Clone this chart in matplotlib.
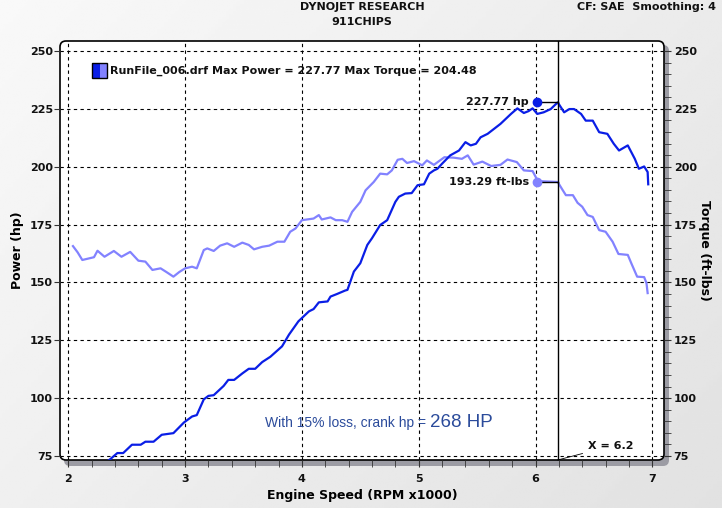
import numpy as np
import matplotlib
matplotlib.use("Agg")
import matplotlib.pyplot as plt
from matplotlib.patches import FancyBboxPatch, Rectangle
from matplotlib.transforms import IdentityTransform
from matplotlib.ticker import MultipleLocator

# данные
power_rpm = [2.33, 2.36, 2.42, 2.47, 2.545, 2.62, 2.66, 2.73, 2.80, 2.90, 2.99, 3.06, 3.10, 3.16,
             3.20, 3.245, 3.33, 3.37, 3.42, 3.49, 3.545, 3.60, 3.66, 3.73, 3.83, 3.89, 3.97, 4.06,
             4.10, 4.145, 4.22, 4.245, 4.30, 4.37, 4.39, 4.445, 4.50, 4.56, 4.60, 4.67, 4.73, 4.80,
             4.83, 4.885, 4.94, 4.99, 5.045, 5.09, 5.13, 5.16, 5.20, 5.27, 5.345, 5.40, 5.445, 5.49,
             5.53, 5.59, 5.70, 5.79, 5.845, 5.90, 5.94, 5.975, 6.015, 6.07, 6.13, 6.19, 6.245, 6.29,
             6.33, 6.39, 6.43, 6.49, 6.545, 6.615, 6.67, 6.715, 6.79, 6.85, 6.885, 6.93, 6.96, 6.965]
power_hp = [72.5, 73.7, 76.3, 76.3, 79.9, 79.9, 81.2, 81.2, 84.2, 84.9, 89.5, 92.1, 92.7, 99.5,
            101.0, 101.3, 105.3, 107.9, 107.9, 110.7, 112.7, 112.7, 115.6, 117.9, 122.4, 127.5, 133.2, 137.5,
            138.5, 141.4, 141.8, 143.9, 145.0, 146.5, 146.8, 154.7, 158.3, 166.2, 169.1, 174.8, 176.9, 184.8,
            187.0, 188.4, 188.6, 192.0, 192.4, 197.0, 198.4, 199.1, 201.3, 204.9, 207.0, 210.6, 209.2, 209.9,
            212.7, 214.2, 218.5, 222.8, 225.2, 223.2, 224.0, 225.2, 222.8, 223.5, 224.9, 227.8, 223.5, 224.9,
            224.9, 222.8, 219.9, 219.9, 214.9, 214.2, 209.9, 207.0, 209.2, 203.4, 199.1, 200.1, 197.7, 192.4]

torque_rpm = [2.04, 2.08, 2.12, 2.22, 2.25, 2.31, 2.39, 2.455, 2.53, 2.60, 2.66, 2.72, 2.79, 2.84,
              2.90, 2.95, 3.00, 3.06, 3.10, 3.16, 3.19, 3.245, 3.30, 3.36, 3.42, 3.49, 3.545, 3.59,
              3.66, 3.72, 3.79, 3.85, 3.90, 3.945, 4.0, 4.10, 4.145, 4.17, 4.245, 4.29, 4.345, 4.39,
              4.43, 4.50, 4.545, 4.615, 4.67, 4.73, 4.77, 4.82, 4.86, 4.90, 4.96, 5.03, 5.07, 5.13,
              5.22, 5.30, 5.37, 5.42, 5.47, 5.545, 5.62, 5.70, 5.76, 5.84, 5.90, 5.975, 6.02, 6.10,
              6.19, 6.23, 6.26, 6.32, 6.36, 6.40, 6.445, 6.49, 6.545, 6.60, 6.66, 6.71, 6.79, 6.82,
              6.87, 6.93, 6.95, 6.96]
torque_ftlb = [165.7, 163.0, 159.7, 160.9, 163.7, 161.1, 163.6, 161.1, 163.2, 159.4, 159.0, 155.4, 156.1, 154.5,
               152.5, 154.5, 156.1, 156.8, 156.1, 164.0, 164.7, 163.6, 165.9, 166.9, 165.4, 167.2, 166.2, 164.3,
               165.4, 165.9, 167.6, 167.6, 171.9, 173.3, 176.9, 177.6, 179.1, 177.2, 178.1, 176.9, 176.9, 176.2,
               180.5, 184.8, 189.8, 193.4, 197.0, 196.7, 198.4, 203.0, 203.4, 201.6, 202.4, 200.6, 202.7, 200.8,
               204.1, 203.9, 203.4, 204.9, 200.9, 202.2, 200.3, 200.8, 203.1, 202.0, 198.4, 198.1, 193.8, 193.6,
               193.4, 190.1, 187.7, 187.7, 184.4, 182.7, 179.1, 178.3, 172.6, 171.9, 167.6, 162.3, 161.9, 158.3,
               152.5, 152.3, 149.7, 145.4]

x_ticks = [2, 3, 4, 5, 6, 7]
y_ticks = [75, 100, 125, 150, 175, 200, 225, 250]
cursor_x = 6.19
max_power = 227.77
max_torque = 204.48
cursor_torque = 193.29
marker_x = 6.015

dark = '#0a1ee6'
light = '#8282ff'
W, H = 722, 508

fig = plt.figure(figsize=(7.22, 5.08), dpi=100)

# фон с градиентом
bg = fig.add_axes([0, 0, 1, 1], zorder=-10)
gx, gy = np.meshgrid(np.linspace(0, 1, 200), np.linspace(0, 1, 200))
grad = 0.975 - 0.09 * (0.6 * gx + 0.4 * gy)
bg.imshow(grad, cmap='gray', vmin=0, vmax=1, aspect='auto', extent=[0, 1, 0, 1])
bg.axis('off')

# тень и белое поле с закруглёнными углами (в пикселях)
shadow = FancyBboxPatch((64, H - 466), 605, 421, boxstyle='round,pad=0,rounding_size=6',
                        transform=IdentityTransform(), fc='#9c9ca4', ec='none', zorder=-5)
panel = FancyBboxPatch((60, H - 460), 604, 419, boxstyle='round,pad=0,rounding_size=6',
                       transform=IdentityTransform(), fc='white', ec='black', lw=1.2, zorder=-4)
fig.add_artist(shadow)
fig.add_artist(panel)

ax = fig.add_axes([60 / W, (H - 460) / H, 604 / W, 419 / H])
ax.patch.set_visible(False)
for s in ax.spines.values():
    s.set_visible(False)
ax.set_xlim(1.929, 7.10)
ax.set_ylim(73.3, 254.3)

ax.set_xticks(x_ticks)
ax.set_yticks(y_ticks)
ax.xaxis.set_minor_locator(MultipleLocator(0.2))
ax.tick_params(axis='x', which='both', direction='out', length=5, color='#333333',
               labelsize=8, pad=5)
ax.tick_params(axis='y', which='both', direction='out', length=4, color='#333333',
               labelsize=8, pad=1)
for lab in ax.get_xticklabels() + ax.get_yticklabels():
    lab.set_fontweight('bold')
    lab.set_color('#111111')
ax.grid(True, which='major', ls=(0, (3, 3)), color='black', lw=0.8)

ax2 = ax.twinx()
ax2.set_ylim(ax.get_ylim())
for s in ax2.spines.values():
    s.set_visible(False)
ax2.set_yticks(y_ticks)
ax2.yaxis.set_minor_locator(MultipleLocator(5))
ax2.tick_params(axis='y', which='both', direction='out', length=5, color='#333333',
                labelsize=8, pad=2)
for lab in ax2.get_yticklabels():
    lab.set_fontweight('bold')
    lab.set_color('#111111')

# кривые
ax.plot(torque_rpm, torque_ftlb, color=light, lw=1.6, solid_joinstyle='round', zorder=3)
ax.plot(power_rpm, power_hp, color=dark, lw=1.6, solid_joinstyle='round', zorder=4)

# курсор и маркеры
ax.axvline(cursor_x, color='black', lw=1, zorder=5)
ax.plot([marker_x, cursor_x], [max_power, max_power], color='black', lw=1, zorder=5)
ax.plot([marker_x, cursor_x], [cursor_torque, cursor_torque], color='black', lw=1, zorder=5)
ax.plot(marker_x, max_power, 'o', color=dark, ms=6, zorder=6)
ax.plot(marker_x, cursor_torque, 'o', color=light, ms=6, zorder=6)
ax.text(marker_x - 0.07, max_power, f'{max_power:.2f} hp', ha='right', va='center',
        fontsize=8, fontweight='bold', color='#111111', zorder=7)
ax.text(marker_x - 0.07, cursor_torque, f'{cursor_torque:.2f} ft-lbs', ha='right', va='center',
        fontsize=8, fontweight='bold', color='#111111', zorder=7)

ax.annotate(f'X = {cursor_x:.1f}', xy=(cursor_x, ax.get_ylim()[0]), xytext=(6.45, 79.3),
            ha='left', va='center', fontsize=8, fontweight='bold', color='#111111',
            arrowprops=dict(arrowstyle='-', lw=0.6, color='black', shrinkA=2, shrinkB=0))

# легенда
ax.add_patch(Rectangle((0.0535, 0.911), 0.0125, 0.036, transform=ax.transAxes,
                       fc=dark, ec='none', zorder=8))
ax.add_patch(Rectangle((0.066, 0.911), 0.0125, 0.036, transform=ax.transAxes,
                       fc=light, ec='none', zorder=8))
ax.add_patch(Rectangle((0.0535, 0.911), 0.025, 0.036, transform=ax.transAxes,
                       fc='none', ec='black', lw=1, zorder=9))
ax.text(0.082, 0.929, f'RunFile_006.drf Max Power = {max_power:.2f} Max Torque = {max_torque:.2f}',
        transform=ax.transAxes, ha='left', va='center', fontsize=8, fontweight='bold',
        color='#111111', zorder=9)

# пометка про потери
t1 = ax.text((265 - 60) / 604, (460 - 423) / 419, 'With 15% loss, crank hp = ',
             transform=ax.transAxes, ha='left', va='center', fontsize=10,
             family='Liberation Sans', color='#2b4b9b', zorder=9)
ax.annotate('268 HP', xy=(1, 0.5), xycoords=t1, xytext=(0, 0.5), textcoords='offset points',
            ha='left', va='center', fontsize=13.5, family='Liberation Sans', color='#2b4b9b', zorder=9)

# подписи осей
ax.set_xlabel('Engine Speed (RPM x1000)', fontsize=9, fontweight='bold', labelpad=4)
ax.set_ylabel('Power (hp)', fontsize=9, fontweight='bold', labelpad=4)
ax2.set_ylabel('Torque (ft-lbs)', fontsize=9, fontweight='bold', rotation=270, labelpad=10)

# шапка
fig.text(362 / W, 1 - 7 / H, 'DYNOJET RESEARCH', ha='center', va='center',
         fontsize=8, fontweight='bold', color='#111111')
fig.text(362 / W, 1 - 22 / H, '911CHIPS', ha='center', va='center',
         fontsize=8, fontweight='bold', color='#111111')
fig.text(716 / W, 1 - 7 / H, 'CF: SAE  Smoothing: 4', ha='right', va='center',
         fontsize=8, fontweight='bold', color='#111111')

fig.savefig('out.png', dpi=100)
